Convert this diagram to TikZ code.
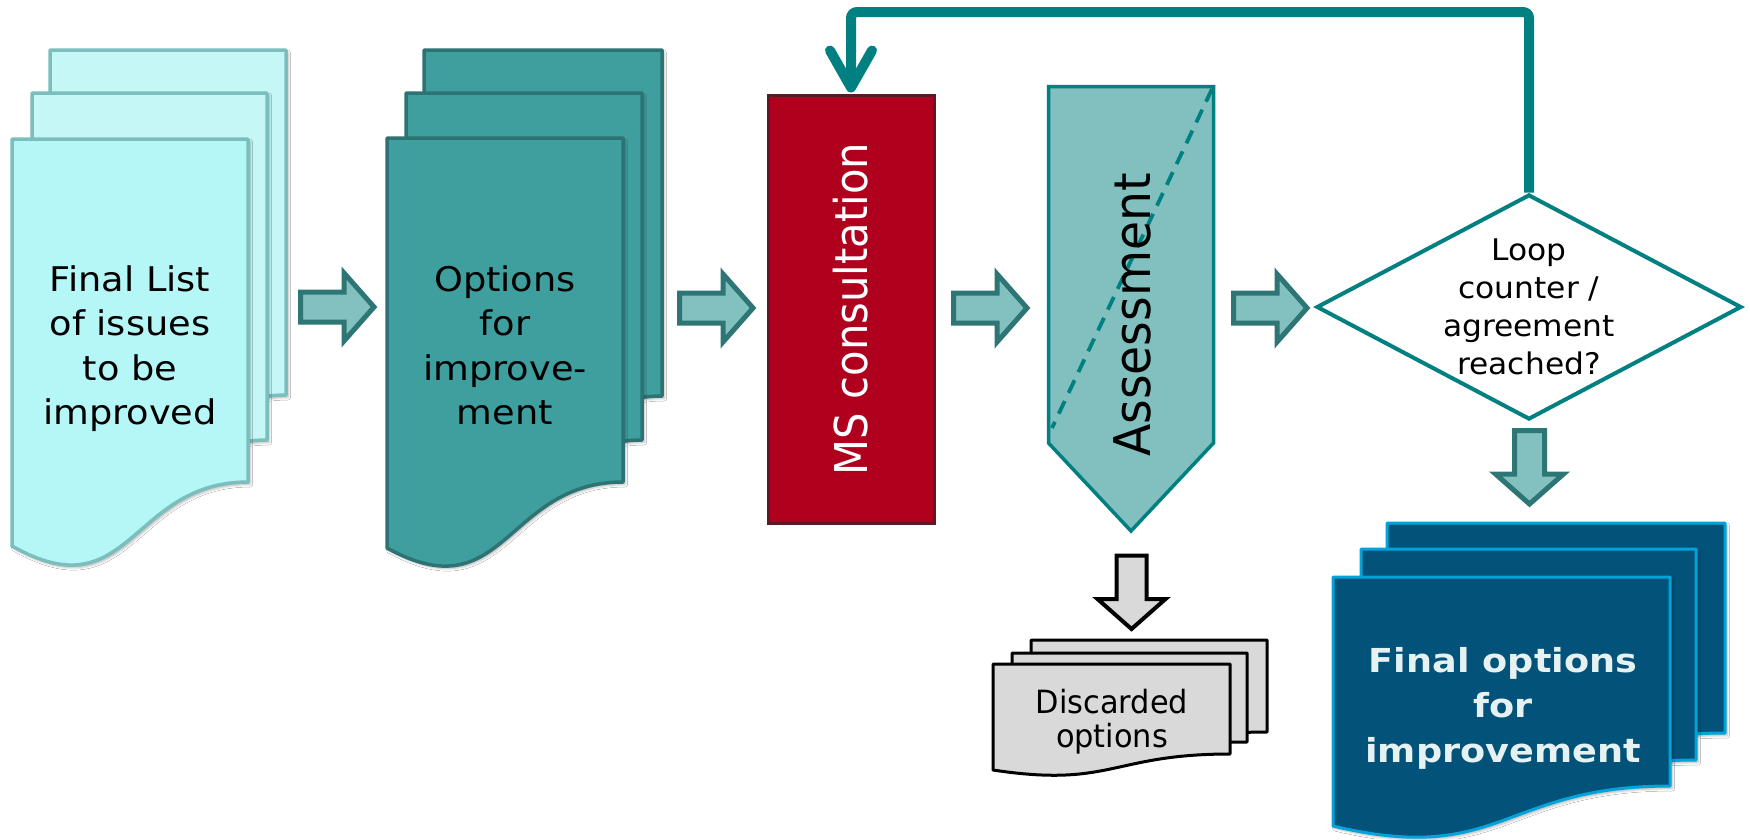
\documentclass[tikz,border=0pt]{standalone}
\usepackage{fontspec}
\setmainfont{DejaVu Sans}
\usepackage{graphicx}
\usetikzlibrary{shapes.geometric,shadows.blur,calc}

\definecolor{cyanfill}{HTML}{B5F6F6}
\definecolor{cyanback}{HTML}{C6F7F7}
\definecolor{cyanedge}{HTML}{7BBEBE}
\definecolor{tealfill}{HTML}{3F9E9E}
\definecolor{tealedge}{HTML}{2E7373}
\definecolor{arrowfill}{HTML}{83C0C0}
\definecolor{arrowedge}{HTML}{2E7676}
\definecolor{msred}{HTML}{AF001E}
\definecolor{msedge}{HTML}{5A1A26}
\definecolor{loopteal}{HTML}{008080}
\definecolor{assessfill}{HTML}{82BFBF}
\definecolor{navyfill}{HTML}{03527A}
\definecolor{navyedge}{HTML}{00A4DA}
\definecolor{navytext}{HTML}{E6F2F2}
\definecolor{discfill}{HTML}{D9D9D9}

% document page with a wavy lower edge:
% #1 style, #2 left, #3 right, #4 top, #5 right end of wave, #6 left end of wave, #7 wave control depth
\newcommand{\docpage}[7]{\path[#1] (#2,#4) -- (#3,#4) -- (#3,#5)
  .. controls ({(#2+#3)/2},#5) and ({(#2+#3)/2},#7) .. (#2,#6) -- cycle;}
% centred block of lines, widened by #1
\newcommand{\stretchtext}[2]{\scalebox{#1}[1]{\begin{tabular}{@{}c@{}}#2\end{tabular}}}

\begin{document}
\begin{tikzpicture}[x=1pt,y=-1pt,
  pageshadow/.style={blur shadow={shadow xshift=2pt,shadow yshift=-2.5pt,shadow blur radius=2.5pt,shadow opacity=30}},
  cyanback page/.style={fill=cyanback,draw=cyanedge,line width=3.5pt,line join=round,pageshadow},
  cyanfront page/.style={fill=cyanfill,draw=cyanedge,line width=3.5pt,line join=round,pageshadow},
  teal page/.style={fill=tealfill,draw=tealedge,line width=3.5pt,line join=round,pageshadow},
  grey page/.style={fill=discfill,draw=black,line width=3pt,line join=round},
  navy page/.style={fill=navyfill,draw=navyedge,line width=3pt,line join=round,pageshadow},
  barrow/.style={fill=arrowfill,draw=arrowedge,line width=5pt,line join=miter},
  garrow/.style={fill=discfill,draw=black,line width=4pt,line join=miter},
  bigtext/.style={font=\fontsize{34}{44.6}\selectfont,inner sep=0pt},
  looptext/.style={font=\fontsize{29.8}{38}\selectfont,inner sep=0pt},
  disctext/.style={font=\fontsize{32}{34}\selectfont,inner sep=0pt},
  finaltext/.style={font=\fontsize{33}{45}\selectfont\bfseries,text=navytext,inner sep=0pt},
  loopline/.style={draw=loopteal,line width=10pt},
  pics/rblock/.style={code={\path[pic actions] (2.5,-15) -- (46,-15) -- (46,-34) -- (76,0)
      -- (46,34) -- (46,15) -- (2.5,15) -- cycle;}},
  pics/dblock/.style={code={\path[pic actions] (-15,2.5) -- (-15,46) -- (-34,46) -- (0,76)
      -- (34,46) -- (15,46) -- (15,2.5) -- cycle;}},
]
\fill[white] (0,0) rectangle (1750,839);
\useasboundingbox (0,0) rectangle (1750,839);

% issues list stack
\docpage{cyanback page}{50}{286}{50}{395}{459}{526}
\docpage{cyanback page}{32}{267}{93}{440}{504}{571}
\docpage{cyanfront page}{12}{248}{139}{482}{546}{613}
\node[bigtext] (issues) at (130,349) {\stretchtext{1.08}{Final List\\of issues\\to be\\improved}};

% options stack
\docpage{teal page}{424}{662}{50}{396}{462}{527}
\docpage{teal page}{406}{642}{93}{440}{506}{571}
\docpage{teal page}{387}{623}{138}{482}{548}{613}
\node[bigtext] (options) at (505,349) {\stretchtext{1.08}{Options\\for\\improve-\\ment}};

% MS consultation
\node[rectangle,fill=msred,draw=msedge,line width=3pt,minimum width=166pt,minimum height=428pt,
      inner sep=0pt,text=white,font=\fontsize{41.7}{50}\selectfont] (ms) at (851,309)
      {\rotatebox{90}{\scalebox{1}[1.086]{MS consultation}}};

% assessment pentagon
\path[fill=assessfill,draw=loopteal,line width=3.5pt,line join=miter]
  (1048.5,86.5) -- (1213.5,86.5) -- (1213.5,443) -- (1131,531) -- (1048.5,443) -- cycle;
\draw[loopteal,line width=3.8pt,dash pattern=on 14pt off 9pt] (1212,89) -- (1052,428);
\node[inner sep=0pt,font=\fontsize{47.3}{55}\selectfont] (assess) at (1132,315)
      {\rotatebox{90}{\scalebox{1}[1.07]{Assessment}}};

% decision
\node[diamond,draw=loopteal,fill=white,line width=4pt,minimum width=425pt,minimum height=225pt,
      inner sep=0pt] (dec) at (1529,307) {};
\node[looptext] (dectext) at (1529,309.4)
      {\stretchtext{1.05}{Loop\\counter /\\agreement\\reached?}};

% block arrows along the flow
\pic[barrow] at (298,307) {rblock};
\pic[barrow] at (677,308) {rblock};
\pic[barrow] at (951,308) {rblock};
\pic[barrow] at (1231,308) {rblock};
\pic[barrow] at (1529.5,428) {dblock};
\pic[garrow] at (1131.5,553) {dblock};

% discarded stack
\docpage{grey page}{1031}{1267}{640}{732}{748}{766}
\docpage{grey page}{1012}{1247}{653}{742}{758}{776}
\docpage{grey page}{993}{1230}{664}{754}{770}{788}
\node[disctext] (discarded) at (1112,723.2) {\stretchtext{0.95}{Discarded\\options}};

% final options stack
\docpage{navy page}{1387}{1725}{523}{733}{773}{813}
\docpage{navy page}{1361}{1696}{549}{760}{800}{840}
\docpage{navy page}{1333}{1670}{577}{786}{826}{866}
\node[finaltext] (final) at (1503,708) {\stretchtext{1.11}{Final options\\for\\improvement}};

% feedback loop
\draw[loopline,rounded corners=6pt,shorten >=7pt]
  (dec.north) -- (dec.north |- 0,12) -- (ms.north |- 0,12) -- (ms.north);
\draw[loopline,line cap=round,line join=round]
  ($(ms.north)+(-21,-43)$) -- ($(ms.north)+(0,-6)$) -- ($(ms.north)+(21,-43)$);
\end{tikzpicture}
\end{document}
